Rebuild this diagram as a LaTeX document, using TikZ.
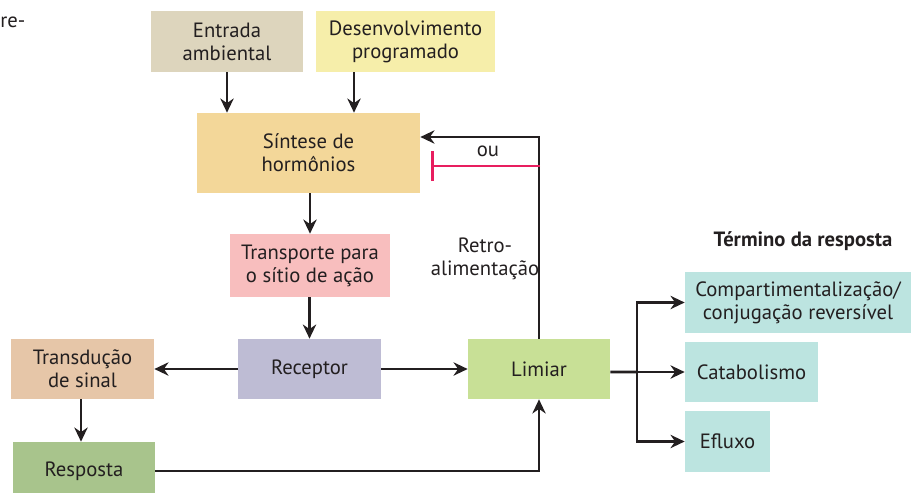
\documentclass[tikz,border=0pt]{standalone}
\usepackage{fontspec}
\setmainfont{PT Sans}
\usetikzlibrary{arrows.meta,positioning}
\definecolor{ambcol}{RGB}{221,213,189}
\definecolor{progcol}{RGB}{246,238,170}
\definecolor{sintcol}{RGB}{243,215,153}
\definecolor{transpcol}{RGB}{248,190,190}
\definecolor{reccol}{RGB}{190,188,212}
\definecolor{transdcol}{RGB}{230,198,168}
\definecolor{respcol}{RGB}{168,196,140}
\definecolor{limcol}{RGB}{200,224,150}
\definecolor{termcol}{RGB}{188,228,224}
\definecolor{inhibcol}{RGB}{232,30,95}
\definecolor{ink}{RGB}{35,31,32}
\tikzset{
    hbox/.style={
        rectangle,
        inner sep=0pt,
        align=center,
        text=ink,
        font=\fontsize{12.4}{13.8}\selectfont
    },
    arrow/.style={
        -{Stealth[length=8.5pt,width=8pt]},
        line width=1.6pt,
        draw=ink
    },
    plainline/.style={
        line width=1.6pt,
        draw=ink
    },
    inhib/.style={
        -{Bar[width=18pt,line width=1.7pt]},
        line width=1.7pt,
        draw=inhibcol
    }
}
\begin{document}
\begin{tikzpicture}[x=0.6pt,y=-0.6pt]
    \useasboundingbox (0,0) rectangle (911,492);
    \node[hbox, anchor=west] (cut) at (0,22) {re-};
    % sinais de entrada
    \node[hbox, fill=ambcol, minimum width=91.2pt, minimum height=36.6pt] (amb) at (227,41.5) {Entrada\\ambiental};
    \node[hbox, fill=progcol, minimum width=107.4pt, minimum height=36.6pt] (prog) at (405.5,41.5) {Desenvolvimento\\programado};
    \node[hbox, fill=sintcol, minimum width=133.8pt, minimum height=48pt] (sint) at (308.5,153) {Síntese de\\hormônios};
    \node[hbox, fill=transpcol, minimum width=96pt, minimum height=37.8pt] (transp) at (310,265.5) {Transporte para\\o sítio de ação};
    \node[hbox, fill=reccol, minimum width=85.8pt, minimum height=36pt] (rec) at (309.5,369) {Receptor};
    \node[hbox, fill=transdcol, minimum width=85.8pt, minimum height=36pt] (transd) at (82.5,369) {Transdução\\de sinal};
    \node[hbox, fill=respcol, minimum width=85.2pt, minimum height=34.8pt] (resp) at (84,471) {Resposta};
    \node[hbox, fill=limcol, minimum width=85.2pt, minimum height=36pt] (lim) at (539,369) {Limiar};
    % termino
    \node[hbox, font=\bfseries\fontsize{12.4}{13.8}\selectfont] (termo) at (803,241) {Término da resposta};
    \node[hbox, fill=termcol, minimum width=135.6pt, minimum height=36.6pt] (comp) at (798,302.5) {Compartimentalização/\\conjugação reversível};
    \node[hbox, fill=termcol, minimum width=79.8pt, minimum height=36pt] (cat) at (751.5,372) {Catabolismo};
    \node[hbox, fill=termcol, minimum width=51pt, minimum height=36.6pt] (eflu) at (727.5,441.5) {Efluxo};
    \node[hbox] (retro) at (485,259) {Retro-\\alimentação};
    \node[hbox] (ou) at (488,151) {ou};

    \coordinate (inhstart) at (540,166);
    \coordinate (inhend) at (431,166);
    \coordinate (br) at (637,372);

    \draw[arrow] (amb) -- (amb |- sint.north);
    \draw[arrow] (prog.south -| 354,0) -- (sint.north -| 354,0);
    \draw[arrow] (sint.south -| transp) -- (transp.north);
    \draw[arrow] (transp.south -| rec) -- (rec.north);
    \draw[arrow] (rec) -- (transd);
    \draw[arrow] (rec) -- (lim);
    \draw[arrow] (transd.south -| 81,0) -- (resp.north -| 81,0);
    \draw[arrow] (resp.east) -| (lim.south);
    \draw[arrow] (lim.north) |- ([yshift=9.6pt]sint.east);
    \draw[inhib] (inhstart) -- (inhend);
    \draw[plainline] ([yshift=-1.8pt]lim.east) -- (br);
    \draw[arrow] (br) |- (comp.west);
    \draw[arrow] (br) -- (cat.west);
    \draw[arrow] (br) |- (eflu.west);
\end{tikzpicture}
\end{document}
